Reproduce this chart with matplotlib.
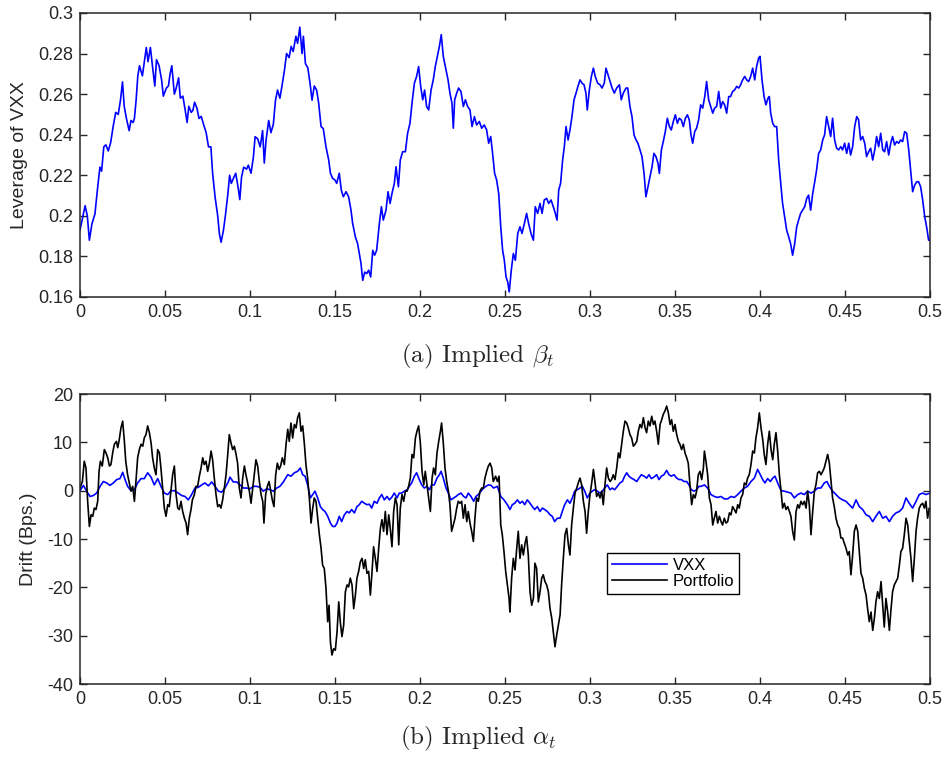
import matplotlib
matplotlib.use("Agg")
import matplotlib.pyplot as plt
from matplotlib.ticker import FuncFormatter

plt.rcParams["font.family"] = ["Liberation Sans", "DejaVu Sans"]
plt.rcParams["mathtext.fontset"] = "cm"
plt.rcParams["axes.unicode_minus"] = False

# (a) implied beta_t -- leverage of VXX
beta_t = [
    0.0000, 0.0030, 0.0043, 0.0055, 0.0070, 0.0088, 0.0100, 0.0117, 0.0127, 0.0140,
    0.0152, 0.0166, 0.0180, 0.0195, 0.0210, 0.0225, 0.0238, 0.0250, 0.0260, 0.0273,
    0.0289, 0.0300, 0.0313, 0.0320, 0.0330, 0.0340, 0.0350, 0.0367, 0.0377, 0.0390,
    0.0400, 0.0414, 0.0426, 0.0440, 0.0450, 0.0465, 0.0480, 0.0490, 0.0508, 0.0520,
    0.0530, 0.0540, 0.0555, 0.0566, 0.0580, 0.0590, 0.0605, 0.0617, 0.0630, 0.0640,
    0.0654, 0.0664, 0.0674, 0.0688, 0.0700, 0.0713, 0.0727, 0.0742, 0.0756, 0.0770,
    0.0780, 0.0795, 0.0810, 0.0820, 0.0830, 0.0844, 0.0855, 0.0870, 0.0880, 0.0890,
    0.0900, 0.0916, 0.0930, 0.0940, 0.0950, 0.0963, 0.0980, 0.0990, 0.1006, 0.1020,
    0.1030, 0.1045, 0.1060, 0.1074, 0.1084, 0.1094, 0.1110, 0.1123, 0.1137, 0.1150,
    0.1162, 0.1176, 0.1190, 0.1203, 0.1215, 0.1230, 0.1242, 0.1254, 0.1270, 0.1280,
    0.1293, 0.1306, 0.1314, 0.1326, 0.1340, 0.1353, 0.1365, 0.1378, 0.1392, 0.1404,
    0.1418, 0.1431, 0.1447, 0.1463, 0.1473, 0.1486, 0.1500, 0.1510, 0.1525, 0.1537,
    0.1549, 0.1565, 0.1580, 0.1594, 0.1604, 0.1620, 0.1633, 0.1643, 0.1653, 0.1663,
    0.1675, 0.1686, 0.1698, 0.1710, 0.1722, 0.1733, 0.1745, 0.1761, 0.1773, 0.1784,
    0.1800, 0.1812, 0.1824, 0.1835, 0.1849, 0.1859, 0.1873, 0.1884, 0.1898, 0.1914,
    0.1927, 0.1941, 0.1953, 0.1967, 0.1980, 0.1992, 0.2004, 0.2016, 0.2027, 0.2039,
    0.2051, 0.2065, 0.2078, 0.2090, 0.2102, 0.2114, 0.2125, 0.2137, 0.2153, 0.2165,
    0.2176, 0.2188, 0.2196, 0.2204, 0.2216, 0.2227, 0.2241, 0.2255, 0.2267, 0.2280,
    0.2294, 0.2306, 0.2320, 0.2333, 0.2349, 0.2363, 0.2378, 0.2392, 0.2404, 0.2416,
    0.2427, 0.2439, 0.2451, 0.2463, 0.2475, 0.2486, 0.2496, 0.2506, 0.2516, 0.2525,
    0.2537, 0.2549, 0.2561, 0.2575, 0.2588, 0.2600, 0.2614, 0.2627, 0.2639, 0.2653,
    0.2667, 0.2678, 0.2692, 0.2706, 0.2718, 0.2731, 0.2745, 0.2757, 0.2771, 0.2784,
    0.2796, 0.2806, 0.2816, 0.2827, 0.2839, 0.2849, 0.2859, 0.2871, 0.2882, 0.2894,
    0.2906, 0.2918, 0.2929, 0.2941, 0.2953, 0.2965, 0.2976, 0.2984, 0.2996, 0.3008,
    0.3020, 0.3031, 0.3045, 0.3059, 0.3071, 0.3084, 0.3094, 0.3130, 0.3143, 0.3157,
    0.3173, 0.3184, 0.3196, 0.3212, 0.3222, 0.3235, 0.3247, 0.3259, 0.3271, 0.3282,
    0.3294, 0.3306, 0.3318, 0.3329, 0.3341, 0.3353, 0.3365, 0.3376, 0.3388, 0.3400,
    0.3408, 0.3420, 0.3431, 0.3443, 0.3455, 0.3467, 0.3478, 0.3490, 0.3502, 0.3514,
    0.3525, 0.3537, 0.3549, 0.3561, 0.3573, 0.3584, 0.3594, 0.3604, 0.3616, 0.3627,
    0.3639, 0.3651, 0.3663, 0.3675, 0.3686, 0.3698, 0.3710, 0.3722, 0.3733, 0.3745,
    0.3757, 0.3769, 0.3780, 0.3792, 0.3804, 0.3816, 0.3827, 0.3839, 0.3851, 0.3863,
    0.3875, 0.3886, 0.3898, 0.3910, 0.3922, 0.3933, 0.3945, 0.3957, 0.3969, 0.3980,
    0.3992, 0.4000, 0.4012, 0.4024, 0.4035, 0.4047, 0.4055, 0.4063, 0.4075, 0.4086,
    0.4098, 0.4110, 0.4122, 0.4133, 0.4145, 0.4157, 0.4169, 0.4180, 0.4192, 0.4204,
    0.4216, 0.4227, 0.4239, 0.4251, 0.4263, 0.4275, 0.4286, 0.4298, 0.4310, 0.4322,
    0.4333, 0.4345, 0.4357, 0.4369, 0.4380, 0.4392, 0.4404, 0.4416, 0.4427, 0.4439,
    0.4451, 0.4463, 0.4475, 0.4486, 0.4498, 0.4510, 0.4522, 0.4533, 0.4545, 0.4557,
    0.4569, 0.4580, 0.4592, 0.4604, 0.4616, 0.4627, 0.4639, 0.4651, 0.4663, 0.4675,
    0.4686, 0.4698, 0.4710, 0.4722, 0.4733, 0.4745, 0.4757, 0.4769, 0.4780, 0.4792,
    0.4804, 0.4816, 0.4827, 0.4839, 0.4851, 0.4863, 0.4875, 0.4886, 0.4898, 0.4910,
    0.4922, 0.4933, 0.4945, 0.4957, 0.4969, 0.4980, 0.4992, 0.5000,
]
beta = [
    0.193, 0.205, 0.200, 0.188, 0.196, 0.201, 0.211, 0.224, 0.222, 0.234,
    0.235, 0.232, 0.236, 0.244, 0.251, 0.250, 0.257, 0.266, 0.254, 0.248,
    0.242, 0.247, 0.246, 0.248, 0.257, 0.269, 0.274, 0.269, 0.275, 0.283,
    0.276, 0.283, 0.274, 0.264, 0.277, 0.274, 0.267, 0.259, 0.263, 0.264,
    0.270, 0.274, 0.260, 0.263, 0.268, 0.258, 0.259, 0.253, 0.246, 0.254,
    0.251, 0.252, 0.256, 0.253, 0.248, 0.249, 0.245, 0.241, 0.234, 0.234,
    0.221, 0.209, 0.200, 0.191, 0.187, 0.193, 0.200, 0.211, 0.220, 0.216,
    0.218, 0.221, 0.214, 0.208, 0.219, 0.224, 0.223, 0.225, 0.221, 0.229,
    0.239, 0.238, 0.234, 0.242, 0.226, 0.237, 0.247, 0.241, 0.245, 0.257,
    0.262, 0.258, 0.265, 0.272, 0.280, 0.278, 0.2835, 0.281, 0.2885, 0.285,
    0.293, 0.280, 0.2885, 0.275, 0.273, 0.2655, 0.257, 0.264, 0.262, 0.2555,
    0.244, 0.243, 0.234, 0.2275, 0.221, 0.2185, 0.2176, 0.216, 0.221, 0.2127,
    0.2094, 0.2119, 0.2094, 0.2028, 0.1962, 0.1896, 0.1863, 0.1814, 0.1765, 0.1682,
    0.1723, 0.1715, 0.1732, 0.1699, 0.1830, 0.1806, 0.1830, 0.1962, 0.2045, 0.1979,
    0.2028, 0.2119, 0.2061, 0.2110, 0.2160, 0.2242, 0.2143, 0.2275, 0.2316, 0.2316,
    0.2407, 0.2456, 0.2555, 0.2654, 0.2687, 0.2736, 0.2638, 0.2572, 0.2620, 0.2539,
    0.2522, 0.2620, 0.2670, 0.2736, 0.2786, 0.2835, 0.2893, 0.2786, 0.2720, 0.2670,
    0.2605, 0.2555, 0.2432, 0.2572, 0.2605, 0.2630, 0.2613, 0.2539, 0.2572, 0.2539,
    0.2522, 0.2440, 0.2489, 0.2448, 0.2465, 0.2432, 0.2448, 0.2423, 0.2358, 0.2391,
    0.2308, 0.2209, 0.2176, 0.2110, 0.1946, 0.1830, 0.1781, 0.1699, 0.1674, 0.1625,
    0.1732, 0.1814, 0.1781, 0.1913, 0.1946, 0.1913, 0.1962, 0.2012, 0.1962, 0.1913,
    0.1880, 0.2045, 0.2012, 0.2061, 0.2012, 0.2078, 0.2086, 0.2061, 0.2078, 0.2045,
    0.2012, 0.1979, 0.2127, 0.2160, 0.2275, 0.2341, 0.2440, 0.2374, 0.2423, 0.2489,
    0.2572, 0.2605, 0.2638, 0.2670, 0.2654, 0.2646, 0.2605, 0.2522, 0.2620, 0.2687,
    0.2728, 0.2687, 0.2654, 0.2646, 0.2630, 0.2654, 0.2728, 0.2630, 0.2605, 0.2630,
    0.2646, 0.2572, 0.2605, 0.2630, 0.2630, 0.2539, 0.2489, 0.2399, 0.2374, 0.2358,
    0.2325, 0.2292, 0.2209, 0.2094, 0.2143, 0.2193, 0.2242, 0.2308, 0.2292, 0.2259,
    0.2209, 0.2325, 0.2366, 0.2415, 0.2481, 0.2440, 0.2423, 0.2465, 0.2498, 0.2456,
    0.2481, 0.2473, 0.2440, 0.2481, 0.2498, 0.2473, 0.2399, 0.2358, 0.2415, 0.2432,
    0.2473, 0.2547, 0.2531, 0.2588, 0.2662, 0.2572, 0.2539, 0.2506, 0.2531, 0.2539,
    0.2613, 0.2531, 0.2563, 0.2547, 0.2506, 0.2588, 0.2588, 0.2613, 0.2621, 0.2638,
    0.2630, 0.2646, 0.2670, 0.2687, 0.2670, 0.2662, 0.2687, 0.2728, 0.2670, 0.2736,
    0.2778, 0.2786, 0.2670, 0.2588, 0.2547, 0.2580, 0.2588, 0.2506, 0.2456, 0.2440,
    0.2440, 0.2275, 0.2160, 0.2061, 0.1995, 0.1929, 0.1896, 0.1863, 0.1806, 0.1863,
    0.1946, 0.1979, 0.2012, 0.2028, 0.2045, 0.2086, 0.2102, 0.2028, 0.2110, 0.2168,
    0.2226, 0.2308, 0.2325, 0.2374, 0.2399, 0.2489, 0.2440, 0.2391, 0.2481, 0.2374,
    0.2333, 0.2325, 0.2341, 0.2325, 0.2358, 0.2308, 0.2358, 0.2300, 0.2341, 0.2440,
    0.2489, 0.2473, 0.2374, 0.2391, 0.2358, 0.2292, 0.2316, 0.2333, 0.2275, 0.2325,
    0.2391, 0.2341, 0.2407, 0.2325, 0.2316, 0.2366, 0.2300, 0.2358, 0.2391, 0.2349,
    0.2366, 0.2358, 0.2374, 0.2366, 0.2415, 0.2407, 0.2325, 0.2226, 0.2119, 0.2152,
    0.2168, 0.2168, 0.2143, 0.2078, 0.1995, 0.1946, 0.1880, 0.1880,
]

# (b) implied alpha_t -- drift in bps for VXX and the portfolio
vxx_t = [
    0.0000, 0.0020, 0.0039, 0.0059, 0.0078, 0.0098, 0.0118, 0.0137, 0.0157, 0.0176,
    0.0196, 0.0216, 0.0235, 0.0251, 0.0265, 0.0280, 0.0300, 0.0320, 0.0339, 0.0359,
    0.0378, 0.0398, 0.0418, 0.0437, 0.0457, 0.0476, 0.0496, 0.0516, 0.0535, 0.0555,
    0.0578, 0.0598, 0.0618, 0.0637, 0.0657, 0.0676, 0.0696, 0.0716, 0.0735, 0.0755,
    0.0775, 0.0794, 0.0814, 0.0833, 0.0853, 0.0873, 0.0882, 0.0902, 0.0922, 0.0941,
    0.0961, 0.0980, 0.1000, 0.1020, 0.1039, 0.1059, 0.1078, 0.1098, 0.1118, 0.1137,
    0.1157, 0.1176, 0.1196, 0.1222, 0.1241, 0.1261, 0.1280, 0.1296, 0.1310, 0.1324,
    0.1339, 0.1355, 0.1369, 0.1382, 0.1398, 0.1414, 0.1427, 0.1441, 0.1457, 0.1473,
    0.1486, 0.1500, 0.1512, 0.1525, 0.1539, 0.1555, 0.1571, 0.1584, 0.1598, 0.1614,
    0.1629, 0.1643, 0.1657, 0.1673, 0.1688, 0.1702, 0.1716, 0.1731, 0.1747, 0.1761,
    0.1775, 0.1790, 0.1806, 0.1820, 0.1833, 0.1849, 0.1865, 0.1878, 0.1892, 0.1908,
    0.1924, 0.1937, 0.1951, 0.1967, 0.1980, 0.1996, 0.2010, 0.2025, 0.2041, 0.2055,
    0.2069, 0.2084, 0.2100, 0.2114, 0.2124, 0.2137, 0.2153, 0.2167, 0.2182, 0.2198,
    0.2212, 0.2225, 0.2241, 0.2257, 0.2271, 0.2284, 0.2300, 0.2316, 0.2329, 0.2343,
    0.2359, 0.2375, 0.2388, 0.2402, 0.2418, 0.2433, 0.2455, 0.2475, 0.2494, 0.2514,
    0.2529, 0.2543, 0.2557, 0.2573, 0.2588, 0.2602, 0.2616, 0.2631, 0.2647, 0.2661,
    0.2675, 0.2690, 0.2706, 0.2720, 0.2733, 0.2749, 0.2765, 0.2778, 0.2792, 0.2808,
    0.2824, 0.2837, 0.2851, 0.2867, 0.2882, 0.2896, 0.2910, 0.2925, 0.2941, 0.2955,
    0.2969, 0.2984, 0.3000, 0.3014, 0.3027, 0.3043, 0.3059, 0.3073, 0.3086, 0.3102,
    0.3118, 0.3131, 0.3145, 0.3161, 0.3176, 0.3190, 0.3204, 0.3216, 0.3229, 0.3243,
    0.3259, 0.3275, 0.3288, 0.3302, 0.3318, 0.3333, 0.3347, 0.3361, 0.3376, 0.3392,
    0.3406, 0.3420, 0.3435, 0.3451, 0.3465, 0.3478, 0.3494, 0.3510, 0.3524, 0.3537,
    0.3553, 0.3569, 0.3582, 0.3596, 0.3612, 0.3627, 0.3641, 0.3655, 0.3673, 0.3692,
    0.3712, 0.3731, 0.3751, 0.3771, 0.3790, 0.3810, 0.3829, 0.3849, 0.3869, 0.3888,
    0.3908, 0.3927, 0.3947, 0.3967, 0.3986, 0.4002, 0.4016, 0.4029, 0.4045, 0.4061,
    0.4075, 0.4088, 0.4104, 0.4124, 0.4143, 0.4163, 0.4182, 0.4202, 0.4222, 0.4241,
    0.4261, 0.4280, 0.4300, 0.4320, 0.4339, 0.4359, 0.4378, 0.4394, 0.4408, 0.4427,
    0.4447, 0.4467, 0.4486, 0.4506, 0.4525, 0.4545, 0.4565, 0.4584, 0.4604, 0.4624,
    0.4643, 0.4663, 0.4682, 0.4702, 0.4722, 0.4741, 0.4761, 0.4780, 0.4800, 0.4820,
    0.4839, 0.4859, 0.4878, 0.4898, 0.4918, 0.4937, 0.4957, 0.4976, 0.5000,
]
vxx = [
    0.0, 1.1, -0.1, -1.2, -1.0, -0.5, 0.9, 1.9, 1.6, 1.1,
    1.6, 2.3, 2.5, 3.8, 2.3, 0.9, 0.0, 0.2, 1.6, 2.5,
    2.5, 3.7, 2.8, 1.2, 2.5, 0.9, -0.5, -0.8, 0.0, 0.0,
    -0.5, -1.0, -1.2, -1.9, -0.8, 0.55, 0.7, 1.2, 1.6, 1.0,
    1.8, 0.9, -0.1, -0.3, 0.55, 1.9, 2.8, 1.8, 1.8, 1.2,
    0.55, 0.55, 0.4, 0.9, 0.9, 0.7, -0.1, 0.4, 0.2, -0.1,
    0.55, 0.9, 1.8, 3.3, 3.0, 3.7, 4.0, 4.7, 3.3, 3.0,
    1.2, -1.5, -0.8, -0.1, -1.5, -3.3, -3.9, -4.3, -5.3, -6.7,
    -7.4, -7.4, -6.7, -5.3, -6.4, -5.0, -4.3, -4.6, -3.9, -4.6,
    -3.3, -2.9, -2.2, -2.6, -2.9, -2.8, -3.6, -2.2, -2.6, -1.5,
    -0.8, -1.9, -1.2, -1.9, -1.4, -0.5, -1.5, -0.5, -0.5, -0.1,
    0.2, 0.9, 1.6, 3.0, 3.7, 2.3, 1.2, 0.55, 0.9, 0.2,
    1.2, 1.2, 2.6, 3.3, 4.0, 2.6, 0.55, -0.5, -1.9, -1.5,
    -1.2, -0.8, -0.5, -1.2, -1.5, -0.5, -1.2, -2.2, -1.2, -0.8,
    -0.1, 0.55, 0.9, 1.2, 1.1, 0.55, 0.9, -1.2, -1.9, -2.9,
    -3.9, -2.9, -2.6, -1.9, -2.6, -2.2, -2.9, -1.9, -2.6, -3.3,
    -3.9, -3.3, -4.3, -3.6, -3.9, -4.3, -5.0, -5.3, -6.4, -5.7,
    -5.7, -4.3, -2.9, -1.9, -2.6, -1.5, -0.1, 0.2, 0.55, 0.9,
    -0.1, -1.5, -0.5, -0.1, 0.2, -0.1, -0.5, -0.1, 0.55, 1.2,
    0.2, 0.55, 0.2, 0.9, 1.6, 1.9, 3.0, 3.7, 3.0, 2.6,
    2.3, 1.9, 2.6, 3.3, 3.0, 2.6, 3.3, 2.5, 2.8, 3.3,
    2.3, 3.0, 3.3, 4.2, 3.3, 3.0, 3.3, 2.6, 2.3, 2.3,
    1.9, 1.9, 1.2, 0.2, -0.1, 0.2, 0.9, 0.9, 1.2, 0.55,
    -0.8, -1.2, -1.4, -1.2, -1.7, -1.7, -1.2, -1.4, -0.8, -0.1,
    0.55, 0.9, 1.9, 2.6, 4.4, 3.3, 2.3, 1.6, 2.5, 1.9,
    2.6, 3.0, 1.6, 0.0, -0.1, -0.3, -0.5, -1.5, -0.8, -0.5,
    -0.8, -0.1, -0.5, -0.1, 0.55, 0.55, 1.6, 1.9, 0.9, -0.1,
    -0.8, -1.5, -1.9, -2.2, -2.9, -3.6, -1.9, -3.3, -3.9, -5.0,
    -5.3, -6.4, -5.3, -4.3, -5.7, -5.3, -6.4, -5.3, -4.6, -4.3,
    -3.6, -1.5, -2.6, -3.6, -2.2, -0.8, -0.5, -0.8, -0.5,
]

port_t = [
    0.0000, 0.0014, 0.0025, 0.0035, 0.0045, 0.0055, 0.0065, 0.0075, 0.0084, 0.0094,
    0.0104, 0.0112, 0.0120, 0.0131, 0.0143, 0.0153, 0.0163, 0.0173, 0.0182, 0.0192,
    0.0202, 0.0214, 0.0222, 0.0231, 0.0241, 0.0251, 0.0261, 0.0269, 0.0280, 0.0290,
    0.0300, 0.0310, 0.0320, 0.0329, 0.0339, 0.0349, 0.0359, 0.0369, 0.0378, 0.0388,
    0.0398, 0.0408, 0.0418, 0.0427, 0.0437, 0.0447, 0.0457, 0.0467, 0.0476, 0.0486,
    0.0496, 0.0506, 0.0516, 0.0525, 0.0535, 0.0545, 0.0555, 0.0565, 0.0575, 0.0584,
    0.0594, 0.0604, 0.0614, 0.0624, 0.0633, 0.0643, 0.0653, 0.0661, 0.0673, 0.0682,
    0.0692, 0.0702, 0.0712, 0.0722, 0.0731, 0.0741, 0.0751, 0.0761, 0.0771, 0.0780,
    0.0790, 0.0800, 0.0810, 0.0820, 0.0829, 0.0839, 0.0849, 0.0859, 0.0869, 0.0878,
    0.0888, 0.0898, 0.0908, 0.0918, 0.0927, 0.0937, 0.0947, 0.0957, 0.0967, 0.0976,
    0.0986, 0.0996, 0.1006, 0.1016, 0.1025, 0.1035, 0.1045, 0.1055, 0.1065, 0.1075,
    0.1082, 0.1092, 0.1102, 0.1112, 0.1122, 0.1131, 0.1141, 0.1151, 0.1161, 0.1171,
    0.1180, 0.1190, 0.1202, 0.1212, 0.1222, 0.1231, 0.1241, 0.1251, 0.1261, 0.1271,
    0.1280, 0.1290, 0.1300, 0.1310, 0.1320, 0.1329, 0.1339, 0.1349, 0.1359, 0.1369,
    0.1378, 0.1388, 0.1398, 0.1408, 0.1418, 0.1427, 0.1437, 0.1447, 0.1457, 0.1465,
    0.1473, 0.1482, 0.1492, 0.1502, 0.1512, 0.1522, 0.1531, 0.1541, 0.1551, 0.1561,
    0.1571, 0.1580, 0.1590, 0.1600, 0.1610, 0.1620, 0.1629, 0.1639, 0.1649, 0.1659,
    0.1669, 0.1678, 0.1688, 0.1698, 0.1708, 0.1718, 0.1727, 0.1737, 0.1747, 0.1757,
    0.1767, 0.1776, 0.1786, 0.1796, 0.1806, 0.1816, 0.1825, 0.1835, 0.1845, 0.1855,
    0.1865, 0.1875, 0.1884, 0.1894, 0.1904, 0.1914, 0.1924, 0.1933, 0.1943, 0.1953,
    0.1963, 0.1973, 0.1982, 0.1992, 0.2002, 0.2012, 0.2022, 0.2031, 0.2041, 0.2051,
    0.2061, 0.2071, 0.2080, 0.2090, 0.2100, 0.2110, 0.2120, 0.2127, 0.2137, 0.2147,
    0.2157, 0.2167, 0.2176, 0.2186, 0.2196, 0.2206, 0.2216, 0.2225, 0.2235, 0.2245,
    0.2255, 0.2265, 0.2275, 0.2284, 0.2294, 0.2304, 0.2314, 0.2324, 0.2333, 0.2343,
    0.2353, 0.2363, 0.2373, 0.2382, 0.2392, 0.2402, 0.2412, 0.2422, 0.2431, 0.2445,
    0.2455, 0.2465, 0.2475, 0.2484, 0.2494, 0.2504, 0.2514, 0.2524, 0.2529, 0.2539,
    0.2549, 0.2559, 0.2569, 0.2578, 0.2588, 0.2598, 0.2608, 0.2618, 0.2627, 0.2637,
    0.2647, 0.2657, 0.2667, 0.2676, 0.2686, 0.2696, 0.2706, 0.2716, 0.2725, 0.2735,
    0.2745, 0.2755, 0.2765, 0.2775, 0.2784, 0.2794, 0.2804, 0.2814, 0.2824, 0.2833,
    0.2843, 0.2853, 0.2863, 0.2873, 0.2882, 0.2892, 0.2902, 0.2912, 0.2922, 0.2931,
    0.2941, 0.2951, 0.2961, 0.2971, 0.2980, 0.2990, 0.3000, 0.3010, 0.3020, 0.3029,
    0.3039, 0.3049, 0.3059, 0.3069, 0.3078, 0.3088, 0.3098, 0.3108, 0.3118, 0.3127,
    0.3137, 0.3147, 0.3157, 0.3167, 0.3176, 0.3186, 0.3196, 0.3206, 0.3216, 0.3225,
    0.3235, 0.3245, 0.3255, 0.3265, 0.3275, 0.3284, 0.3294, 0.3304, 0.3314, 0.3324,
    0.3333, 0.3343, 0.3353, 0.3363, 0.3373, 0.3382, 0.3392, 0.3402, 0.3412, 0.3422,
    0.3431, 0.3441, 0.3451, 0.3461, 0.3471, 0.3480, 0.3490, 0.3500, 0.3510, 0.3520,
    0.3529, 0.3539, 0.3549, 0.3559, 0.3569, 0.3578, 0.3588, 0.3598, 0.3608, 0.3618,
    0.3627, 0.3637, 0.3647, 0.3657, 0.3667, 0.3673, 0.3682, 0.3692, 0.3702, 0.3712,
    0.3722, 0.3731, 0.3741, 0.3751, 0.3761, 0.3771, 0.3780, 0.3790, 0.3800, 0.3810,
    0.3820, 0.3829, 0.3839, 0.3849, 0.3859, 0.3869, 0.3878, 0.3888, 0.3898, 0.3908,
    0.3918, 0.3927, 0.3937, 0.3947, 0.3957, 0.3967, 0.3976, 0.3986, 0.3996, 0.4006,
    0.4016, 0.4025, 0.4035, 0.4045, 0.4055, 0.4065, 0.4075, 0.4084, 0.4094, 0.4104,
    0.4114, 0.4124, 0.4133, 0.4143, 0.4153, 0.4163, 0.4173, 0.4182, 0.4192, 0.4202,
    0.4212, 0.4222, 0.4231, 0.4241, 0.4251, 0.4261, 0.4271, 0.4280, 0.4290, 0.4300,
    0.4310, 0.4320, 0.4329, 0.4339, 0.4349, 0.4359, 0.4369, 0.4378, 0.4388, 0.4398,
    0.4408, 0.4418, 0.4427, 0.4437, 0.4447, 0.4457, 0.4467, 0.4476, 0.4486, 0.4496,
    0.4506, 0.4516, 0.4525, 0.4535, 0.4545, 0.4555, 0.4565, 0.4575, 0.4584, 0.4594,
    0.4604, 0.4614, 0.4624, 0.4633, 0.4643, 0.4653, 0.4663, 0.4673, 0.4682, 0.4692,
    0.4702, 0.4712, 0.4722, 0.4731, 0.4741, 0.4751, 0.4761, 0.4771, 0.4780, 0.4790,
    0.4800, 0.4810, 0.4820, 0.4829, 0.4839, 0.4849, 0.4859, 0.4869, 0.4878, 0.4888,
    0.4898, 0.4908, 0.4918, 0.4927, 0.4937, 0.4947, 0.4957, 0.4967, 0.4976, 0.4986,
    0.4996, 0.5000,
]
port = [
    0.55, 1.9, 6.1, 4.7, -2.2, -7.4, -5.0, -5.3, -3.6, -3.9,
    -2.2, 4.0, 6.1, 5.1, 8.5, 7.8, 6.8, 5.1, 5.4, 7.8,
    9.6, 10.2, 8.9, 10.6, 13.0, 14.4, 10.2, 6.1, 3.3, 1.6,
    -0.1, 0.9, -2.2, 1.9, 6.8, 8.5, 9.6, 9.2, 10.9, 11.6,
    13.4, 12.0, 9.9, 6.8, 4.7, 3.3, 8.5, 7.8, 4.7, 0.55,
    -3.6, -5.3, -2.9, -3.3, -0.1, 3.3, 5.1, -0.8, -3.6, -3.9,
    -2.2, -4.3, -5.7, -6.7, -9.1, -5.7, -3.9, -1.9, -0.8, 0.9,
    0.9, 3.0, 4.7, 6.8, 5.4, 6.1, 4.0, 5.7, 8.2, 6.4,
    2.6, -0.8, -3.3, -2.9, -3.6, -1.9, 0.55, 3.3, 7.5, 11.6,
    9.9, 8.5, 9.2, 7.5, 5.7, 0.55, -1.5, 2.6, 5.1, 3.3,
    1.6, -0.1, -2.6, 0.55, 3.3, 6.4, 5.1, 1.9, -0.8, -2.2,
    -6.7, -0.8, 0.9, 1.9, -0.1, -1.9, -3.3, 3.3, 5.7, 4.4,
    5.1, 6.8, 5.4, 9.6, 12.7, 10.2, 14.0, 10.9, 13.7, 13.0,
    15.1, 16.1, 12.3, 13.4, 9.6, 5.4, 2.6, -1.5, -6.7, -3.6,
    -1.5, -2.2, -5.7, -9.1, -11.9, -15.4, -16.1, -20.2, -27.1, -23.7,
    -31.3, -34.0, -32.7, -33.0, -29.2, -23.0, -27.1, -30.2, -27.8, -20.9,
    -19.5, -19.9, -18.1, -19.5, -24.4, -21.6, -18.1, -16.7, -14.7, -14.0,
    -16.1, -14.3, -17.1, -16.7, -21.6, -16.7, -11.6, -14.0, -16.7, -11.9,
    -7.8, -6.0, -8.4, -4.3, -9.1, -5.0, -7.8, -11.6, -4.3, -1.5,
    -2.9, -11.2, -3.6, -0.8, -2.2, -0.1, -0.1, 0.9, 2.6, 7.5,
    6.8, 10.9, 12.3, 13.4, 9.9, 4.0, 1.2, 4.0, 1.2, -1.5,
    -4.3, 2.6, 4.7, 3.3, 7.8, 10.2, 12.3, 14.0, 9.9, 4.7,
    1.9, -0.1, -2.9, -8.4, -7.1, -5.7, -3.6, -2.2, -2.6, -2.2,
    -5.7, -2.9, -6.4, -4.3, -6.7, -8.4, -10.5, -5.3, -1.5, -2.2,
    -0.1, 0.55, 0.55, 2.6, 4.0, 5.1, 5.7, 4.7, 1.9, 3.0,
    1.9, 3.0, -7.1, -9.1, -12.6, -16.7, -19.5, -22.3, -25.1, -18.1,
    -14.0, -16.4, -11.9, -8.4, -14.0, -11.2, -13.3, -10.9, -9.5, -13.3,
    -20.9, -23.7, -22.3, -15.0, -16.1, -23.0, -20.9, -18.1, -17.4, -18.8,
    -19.5, -20.9, -24.4, -26.4, -29.2, -32.3, -29.9, -27.8, -25.7, -19.5,
    -14.0, -9.1, -7.8, -11.2, -13.3, -7.1, -3.6, -0.5, 0.55, 1.6,
    2.6, 1.2, -2.2, -4.3, -8.8, -4.3, -0.8, 1.6, 4.4, 1.9,
    -1.2, -0.5, -1.5, -0.1, -2.9, 1.2, 4.7, 2.6, 1.9, 2.3,
    3.3, 2.3, 4.7, 7.8, 6.8, 9.6, 12.3, 14.4, 14.0, 13.0,
    11.6, 10.9, 9.2, 9.6, 10.2, 12.3, 13.7, 13.0, 15.1, 13.0,
    12.0, 14.4, 13.4, 15.4, 13.7, 14.4, 12.3, 9.6, 13.7, 14.7,
    15.8, 16.5, 17.5, 16.1, 13.7, 14.7, 12.3, 13.7, 11.6, 10.2,
    9.6, 8.5, 9.6, 7.8, 6.8, 5.7, 1.2, -2.9, -0.8, -1.5,
    -0.1, 3.3, 4.0, 2.3, 4.7, 8.2, 6.1, 3.3, -1.5, -2.9,
    -7.1, -5.7, -4.3, -6.7, -5.3, -6.4, -7.1, -5.7, -6.7, -6.4,
    -4.6, -5.0, -3.3, -3.9, -4.6, -2.9, -3.6, -1.5, -0.8, 1.6,
    1.2, 2.6, 3.3, 5.4, 8.2, 7.8, 10.9, 13.0, 16.1, 13.0,
    10.6, 7.5, 5.4, 9.6, 12.3, 8.5, 6.4, 9.6, 12.0, 8.2,
    3.3, -0.1, -3.6, -2.6, -3.9, -3.3, -4.3, -5.3, -8.4, -10.2,
    -4.3, -2.9, -3.6, -2.2, -2.9, -2.2, -3.6, -0.1, -2.9, -9.1,
    -4.3, -0.1, 1.2, 3.7, 4.0, 3.3, 4.0, 4.7, 6.1, 7.5,
    5.7, 1.9, -1.5, -3.3, -5.7, -7.1, -7.8, -9.8, -9.8, -10.9,
    -11.9, -13.3, -12.6, -17.4, -13.3, -8.4, -7.1, -8.4, -12.6, -17.1,
    -18.1, -20.2, -21.6, -24.4, -27.1, -25.1, -28.9, -26.4, -23.0, -20.9,
    -22.3, -18.8, -23.7, -28.2, -22.3, -25.1, -28.9, -24.4, -20.9, -19.5,
    -18.8, -18.1, -15.4, -12.6, -11.9, -9.1, -5.7, -7.1, -10.5, -14.0,
    -18.8, -14.0, -8.4, -5.7, -3.6, -2.9, -2.6, -3.6, -2.2, -5.7,
    -3.6, -3.9,
]

beta_xticks = [0, 0.05, 0.1, 0.15, 0.2, 0.25, 0.3, 0.35, 0.4, 0.45, 0.5]
beta_yticks = [0.16, 0.18, 0.2, 0.22, 0.24, 0.26, 0.28, 0.3]
drift_yticks = [-40, -30, -20, -10, 0, 10, 20]

TEXT = "#262626"
fmt = FuncFormatter(lambda v, _: "%g" % round(v, 4))


def style_axes(ax):
    for sp in ax.spines.values():
        sp.set_linewidth(1.1)
        sp.set_color(TEXT)
    ax.tick_params(direction="in", top=True, right=True, length=5, width=1.0,
                   color=TEXT, labelcolor=TEXT, labelsize=13, pad=5)
    ax.xaxis.set_major_formatter(fmt)
    ax.yaxis.set_major_formatter(fmt)


fig = plt.figure(figsize=(9.48, 7.58), dpi=100)

ax1 = fig.add_axes([0.0844, 0.6082, 0.8966, 0.3747])
ax1.plot(beta_t, beta, color="#0000FF", lw=1.2)
ax1.set_xlim(0, 0.5)
ax1.set_ylim(0.16, 0.3)
ax1.set_xticks(beta_xticks)
ax1.set_yticks(beta_yticks)
ax1.set_ylabel("Leverage of VXX", fontsize=14, color=TEXT, labelpad=7)
style_axes(ax1)

ax2 = fig.add_axes([0.0844, 0.0976, 0.8966, 0.3826])
ax2.plot(vxx_t, vxx, color="#0000FF", lw=1.2, label="VXX")
ax2.plot(port_t, port, color="black", lw=1.2, label="Portfolio")
ax2.set_xlim(0, 0.5)
ax2.set_ylim(-40, 20)
ax2.set_xticks(beta_xticks)
ax2.set_yticks(drift_yticks)
ax2.set_ylabel("Drift (Bps.)", fontsize=14, color=TEXT, labelpad=7)
style_axes(ax2)

leg = ax2.legend(loc="upper left", bbox_to_anchor=(0.62, 0.452), borderaxespad=0,
                 fontsize=12, handlelength=3.3, handletextpad=0.35,
                 labelspacing=0.05, borderpad=0.3, fancybox=False,
                 framealpha=1, edgecolor="black")
leg.get_frame().set_linewidth(1.0)

cap = dict(ha="center", va="center", fontsize=18, family="cmr10", color=TEXT)
fig.text(0.504, 0.530, r"(a) Implied $\beta_t$", **cap)
fig.text(0.504, 0.026, r"(b) Implied $\alpha_t$", **cap)

fig.savefig("out.png", dpi=100)
